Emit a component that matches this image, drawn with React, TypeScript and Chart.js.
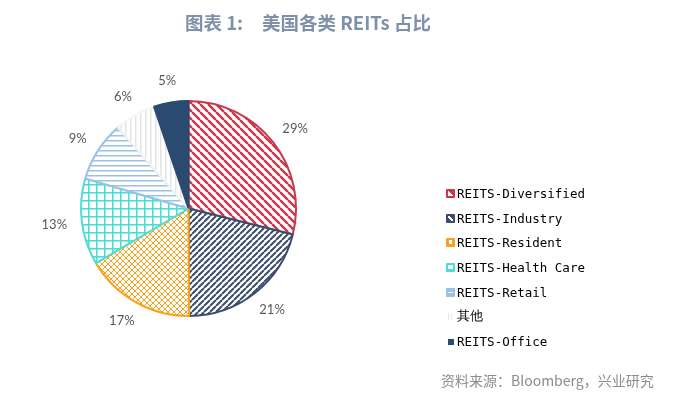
import React, { useEffect, useRef } from "react";
import { Chart, registerables } from "chart.js";

Chart.register(...registerables);

const categories = [
  "REITS-Diversified",
  "REITS-Industry",
  "REITS-Resident",
  "REITS-Health Care",
  "REITS-Retail",
  "其他",
  "REITS-Office",
];
const shares = [28.9, 21.0, 16.6, 13.0, 9.1, 6.2, 5.2];
const colors = ["#C8374B", "#3B4D6E", "#F5A31C", "#4DDDD5", "#9BC2E6", "#E3E3E3", "#2B4A6F"];
const borderColors = ["#C8374B", "#3B4D6E", "#F5A31C", "#4DDDD5", "#9BC2E6", "#F4F4F4", "#2B4A6F"];
const patternKinds = ["diagDown", "diagUp", "diamond", "grid", "horizontal", "vertical", "solid"];
const titleLead = "图表 1:";
const titleMain = "美国各类 REITs 占比";
const source = "资料来源：Bloomberg，兴业研究";

function makePattern(kind: string, color: string): any {
  if (kind === "solid") return color;
  const sizes: Record<string, number> = { diagDown: 8, diagUp: 6, diamond: 6, grid: 8, horizontal: 5, vertical: 5 };
  const p = sizes[kind];
  const c = document.createElement("canvas");
  c.width = p;
  c.height = p;
  const ctx = c.getContext("2d")!;
  ctx.fillStyle = "#ffffff";
  ctx.fillRect(0, 0, p, p);
  ctx.strokeStyle = color;
  ctx.fillStyle = color;
  if (kind === "diagDown" || kind === "diagUp" || kind === "diamond") {
    ctx.lineWidth = kind === "diagDown" ? 2.4 : kind === "diagUp" ? 2 : 1;
    ctx.beginPath();
    for (const o of [-p, 0, p]) {
      if (kind === "diagDown" || kind === "diamond") {
        ctx.moveTo(o, 0);
        ctx.lineTo(o + p, p);
      }
      if (kind === "diagUp" || kind === "diamond") {
        ctx.moveTo(o, p);
        ctx.lineTo(o + p, 0);
      }
    }
    ctx.stroke();
  } else if (kind === "grid") {
    ctx.fillRect(0, 0, 1.6, p);
    ctx.fillRect(0, 0, p, 1.6);
  } else if (kind === "horizontal") {
    ctx.fillRect(0, 0, p, 1.5);
  } else if (kind === "vertical") {
    ctx.fillRect(0, 0, 1.5, p);
  }
  return ctx.createPattern(c, "repeat");
}

const labelPlugin = {
  id: "outerLabels",
  afterDatasetsDraw(chart: any) {
    const ctx = chart.ctx;
    const meta = chart.getDatasetMeta(0);
    const data = chart.data.datasets[0].data as number[];
    const total = data.reduce((a, b) => a + b, 0);
    ctx.save();
    ctx.font = "13px Lato";
    ctx.fillStyle = "#595959";
    ctx.textAlign = "center";
    ctx.textBaseline = "middle";
    meta.data.forEach((arc: any, i: number) => {
      const { x, y, startAngle, endAngle, outerRadius } = arc.getProps(
        ["x", "y", "startAngle", "endAngle", "outerRadius"],
        true
      );
      const mid = (startAngle + endAngle) / 2;
      const text = Math.round((data[i] / total) * 100) + "%";
      const w = ctx.measureText(text).width;
      const h = 13;
      const r = outerRadius + 15;
      const cx = x + Math.cos(mid) * r + (Math.cos(mid) * w) / 2;
      const cy = y + Math.sin(mid) * r + (Math.sin(mid) * h) / 2;
      ctx.fillText(text, cx, cy);
    });
    ctx.restore();
  },
};

function LegendMarker({ index }: { index: number }) {
  const color = colors[index];
  const base: React.CSSProperties = {
    width: 9,
    height: 9,
    position: "relative",
    display: "inline-block",
    flex: "0 0 auto",
    boxSizing: "border-box",
  };
  const inner: React.CSSProperties = { position: "absolute", background: "#fff" };
  const kind = patternKinds[index];
  if (kind === "vertical") {
    return (
      <span style={{ ...base }}>
        <span style={{ position: "absolute", left: 2, top: 1, width: 1, height: 7, background: "#E6E6E6" }} />
        <span style={{ position: "absolute", left: 5, top: 1, width: 1, height: 7, background: "#E6E6E6" }} />
      </span>
    );
  }
  if (kind === "solid") {
    return (
      <span style={{ ...base }}>
        <span style={{ position: "absolute", left: 2, top: 2, width: 6, height: 6, background: color }} />
      </span>
    );
  }
  let child: React.ReactNode = null;
  if (kind === "diagDown")
    child = <span style={{ ...inner, left: 2, top: 2, width: 5, height: 5, background: "linear-gradient(to top right, #fff 50%, transparent 51%)" }} />;
  if (kind === "diagUp")
    child = <span style={{ ...inner, left: 2, top: 2, width: 5, height: 5, background: "linear-gradient(to top right, transparent 35%, #fff 36%, #fff 60%, transparent 61%)" }} />;
  if (kind === "diamond") child = <span style={{ ...inner, left: 3, top: 2, width: 3, height: 4 }} />;
  if (kind === "grid") child = <span style={{ ...inner, left: 2, top: 2, width: 5, height: 4 }} />;
  if (kind === "horizontal") child = <span style={{ ...inner, left: 2, top: 4, width: 5, height: 1.5 }} />;
  return <span style={{ ...base, background: color, borderRadius: 1 }}>{child}</span>;
}

export default function App() {
  const canvasRef = useRef<HTMLCanvasElement>(null);

  useEffect(() => {
    const canvas = canvasRef.current;
    if (!canvas) return;
    const patterns = colors.map((c, i) => makePattern(patternKinds[i], c));
    const chart = new Chart(canvas, {
      type: "pie",
      data: {
        labels: categories,
        datasets: [
          {
            data: shares,
            backgroundColor: patterns,
            borderColor: borderColors,
            borderWidth: 2,
          },
        ],
      },
      options: {
        responsive: false,
        animation: false,
        devicePixelRatio: 1,
        layout: { padding: { left: 80, top: 100, right: 400, bottom: 79 } },
        plugins: {
          legend: { display: false },
          tooltip: { enabled: false },
        },
      },
      plugins: [labelPlugin],
    } as any);
    return () => chart.destroy();
  }, []);

  const titleFont = 'bold 18.5px "Noto Sans CJK SC", sans-serif';
  return (
    <div style={{ position: "absolute", left: 0, top: 0, width: 697, height: 396, background: "#fff", overflow: "hidden" }}>
      <canvas ref={canvasRef} width={697} height={396} style={{ position: "absolute", left: 0, top: 0 }} />
      <div
        style={{
          position: "absolute",
          left: 185,
          top: 9,
          font: titleFont,
          color: "#7F90AB",
          whiteSpace: "pre",
          lineHeight: "26px",
        }}
      >
        {titleLead}
      </div>
      <div
        style={{
          position: "absolute",
          left: 262,
          top: 9,
          font: titleFont,
          color: "#7F90AB",
          whiteSpace: "pre",
          lineHeight: "26px",
        }}
      >
        {titleMain}
      </div>
      <div style={{ position: "absolute", left: 446, top: 181 }}>
        {categories.map((c, i) => (
          <div
            key={c}
            style={{
              display: "flex",
              alignItems: "center",
              height: 24.7,
              font: '12.5px "DejaVu Sans Mono", monospace',
              color: "#000",
              whiteSpace: "pre",
            }}
          >
            <LegendMarker index={i} />
            <span style={{ marginLeft: 2, letterSpacing: 0 }}>{c}</span>
          </div>
        ))}
      </div>
      <div
        style={{
          position: "absolute",
          left: 441,
          top: 370,
          font: '14px "Noto Sans CJK SC", sans-serif',
          color: "#8C8C8C",
          whiteSpace: "pre",
          lineHeight: "20px",
        }}
      >
        {source}
      </div>
    </div>
  );
}
